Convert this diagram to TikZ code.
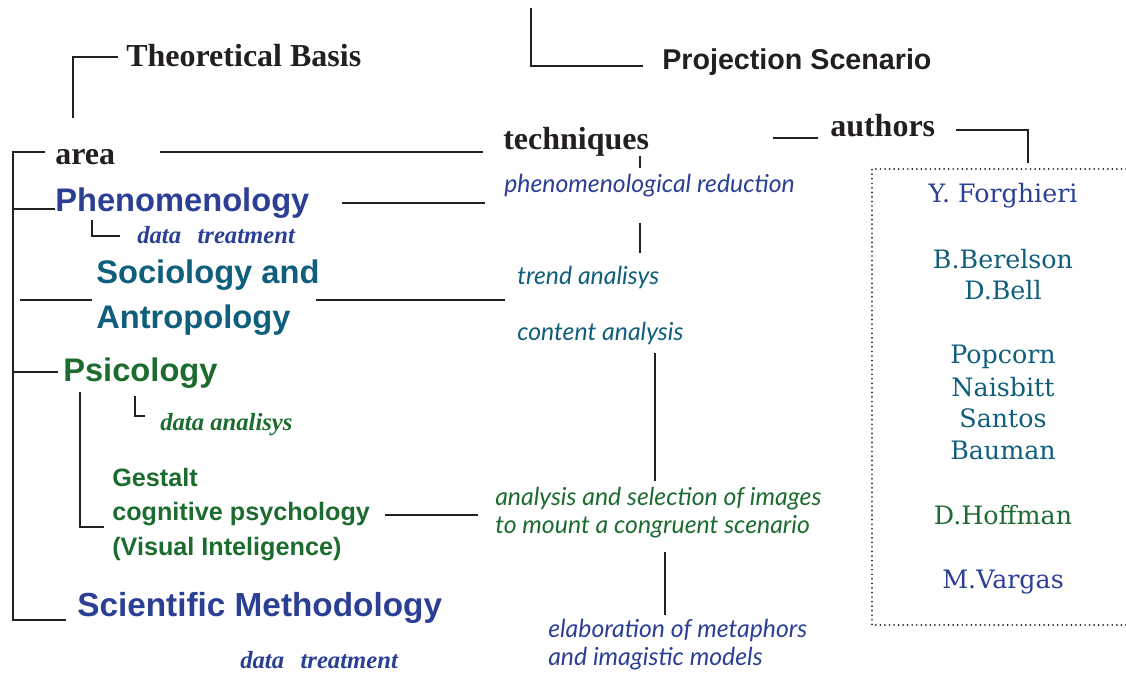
\documentclass[tikz,border=0pt]{standalone}
\usepackage{fontspec}
\newfontfamily\hdfont{Liberation Serif}
\newfontfamily\bgfont{Liberation Sans}
\newfontfamily\tqfont{Lato}
\newfontfamily\aufont{DejaVu Serif}
\definecolor{cblue}{RGB}{43,63,148}
\definecolor{cteal}{RGB}{15,94,124}
\definecolor{cgreen}{RGB}{28,107,47}
\definecolor{lk}{RGB}{35,31,32}
\begin{document}
\begin{tikzpicture}[x=0.75pt,y=-0.75pt,
  ln/.style={line width=2pt, draw=lk},
  dotbox/.style={line width=1.4pt, draw=lk, line cap=round, dash pattern=on 0.01pt off 3.4pt},
  head/.style={inner sep=0pt, anchor=base west, text=lk, font=\hdfont\bfseries\fontsize{24}{28}\selectfont},
  proj/.style={inner sep=0pt, anchor=base west, text=lk, font=\bgfont\bfseries\fontsize{21.5}{26}\selectfont},
  big/.style={inner sep=0pt, anchor=base west, font=\bgfont\bfseries\fontsize{24.5}{29}\selectfont},
  subl/.style={inner sep=0pt, anchor=base west, text=cgreen, font=\bgfont\bfseries\fontsize{18.9}{23}\selectfont},
  dat/.style={inner sep=0pt, anchor=base west, font=\hdfont\bfseries\itshape\fontsize{18.5}{22}\selectfont},
  tq/.style={inner sep=0pt, anchor=base west, font=\tqfont\itshape\fontsize{18.6}{22}\selectfont},
  au/.style={inner sep=0pt, anchor=base, font=\aufont\fontsize{19}{23}\selectfont}
]
\useasboundingbox (0,0) rectangle (1126,673);

% headings
\node[head] (tb) at (126,67) {Theoretical Basis};
\node[proj] (ps) at (662,70) {Projection Scenario};
\node[head] (area) at (55,165) {area};
\node[head] (tech) at (503,150) {techniques};
\node[head] (auth) at (830,137) {authors};

% areas
\node[big,text=cblue] (phen) at (55,212) {Phenomenology};
\node[big,text=cteal] (soc1) at (96,283) {Sociology and};
\node[big,text=cteal] (soc2) at (96,328) {Antropology};
\node[big,text=cgreen] (psi) at (63,381) {Psicology};
\node[big,text=cblue,font=\bgfont\bfseries\fontsize{25}{29}\selectfont] (sci) at (77,616) {Scientific Methodology};
\node[subl] (ges1) at (112,486) {Gestalt};
\node[subl] (ges2) at (112,520) {cognitive psychology};
\node[subl] (ges3) at (112,555) {(Visual Inteligence)};
\node[dat,text=cblue] (dt1) at (137,244) {data\ \ \,treatment};
\node[dat,text=cgreen] (da) at (160,430) {data analisys};
\node[dat,text=cblue] (dt2) at (240,668) {data\ \ \,treatment};

% techniques
\node[tq,text=cblue] (pr) at (504,193) {phenomenological reduction};
\node[tq,text=cteal] (ta) at (517,284) {trend analisys};
\node[tq,text=cteal] (ca) at (517,340) {content analysis};
\node[tq,text=cgreen] (as1) at (495,505) {analysis and selection of images};
\node[tq,text=cgreen] (as2) at (495,533) {to mount a congruent scenario};
\node[tq,text=cblue] (el1) at (548,637) {elaboration of metaphors};
\node[tq,text=cblue] (el2) at (548,665) {and imagistic models};

% authors
\node[au,text=cblue] (a1) at (1003,203) {Y. Forghieri};
\node[au,text=cteal] (a2) at (1003,268) {B.Berelson};
\node[au,text=cteal] (a3) at (1003,300) {D.Bell};
\node[au,text=cteal] (a4) at (1003,363) {Popcorn};
\node[au,text=cteal] (a5) at (1003,396) {Naisbitt};
\node[au,text=cteal] (a6) at (1003,427) {Santos};
\node[au,text=cteal] (a7) at (1003,459) {Bauman};
\node[au,text=cgreen] (a8) at (1003,524) {D.Hoffman};
\node[au,text=cblue] (a9) at (1003,588) {M.Vargas};

% coordinates for connectors
\coordinate (psT) at (531,8);   \coordinate (psC) at (531,66);  \coordinate (psE) at (643,66);
\coordinate (tbB) at (73,118);  \coordinate (tbC) at (73,57);   \coordinate (tbE) at (118,57);
\coordinate (lT) at (13,152);   \coordinate (lTE) at (45,152);
\coordinate (lP) at (13,209);   \coordinate (lPE) at (55,209);
\coordinate (lS) at (20,300);   \coordinate (lSE) at (92,300);
\coordinate (lY) at (13,372);   \coordinate (lYE) at (58,372);
\coordinate (lB) at (13,620);   \coordinate (lBE) at (66,620);
\coordinate (d1T) at (92,220);  \coordinate (d1C) at (92,236); \coordinate (d1E) at (120,236);
\coordinate (gT) at (80,392);   \coordinate (gC) at (80,527);  \coordinate (gE) at (104,527);
\coordinate (daT) at (135,396); \coordinate (daC) at (135,416); \coordinate (daE) at (145,416);
\coordinate (atA) at (160,152); \coordinate (atB) at (483,152);
\coordinate (phA) at (342,203); \coordinate (phB) at (485,203);
\coordinate (soA) at (316,300); \coordinate (soB) at (505,300);
\coordinate (coA) at (385,515); \coordinate (coB) at (478,515);
\coordinate (t1A) at (640,156); \coordinate (t1B) at (640,168);
\coordinate (t2A) at (640,223); \coordinate (t2B) at (640,253);
\coordinate (t3A) at (655,353); \coordinate (t3B) at (655,481);
\coordinate (t4A) at (665,552); \coordinate (t4B) at (665,615);
\coordinate (tuA) at (773,138); \coordinate (tuB) at (818,138);
\coordinate (auA) at (956,130); \coordinate (auC) at (1028,130); \coordinate (auB) at (1028,163);
\coordinate (bxTR) at (1126,169); \coordinate (bxTL) at (872,169);
\coordinate (bxBL) at (872,625); \coordinate (bxBR) at (1126,625);

% connectors
\draw[ln] (psT) -- (psC) -- (psE);
\draw[ln] (tbB) -- (tbC) -- (tbE);
\draw[ln] (lTE) -- (lT) -- (lB) -- (lBE);
\draw[ln] (lP) -- (lPE);
\draw[ln] (lS) -- (lSE);
\draw[ln] (lY) -- (lYE);
\draw[ln] (d1T) -- (d1C) -- (d1E);
\draw[ln] (gT) -- (gC) -- (gE);
\draw[ln] (daT) -- (daC) -- (daE);
\draw[ln] (atA) -- (atB);
\draw[ln] (phA) -- (phB);
\draw[ln] (soA) -- (soB);
\draw[ln] (coA) -- (coB);
\draw[ln] (t1A) -- (t1B);
\draw[ln] (t2A) -- (t2B);
\draw[ln] (t3A) -- (t3B);
\draw[ln] (t4A) -- (t4B);
\draw[ln] (tuA) -- (tuB);
\draw[ln] (auA) -- (auC) -- (auB);
\draw[dotbox] (bxTR) -- (bxTL) -- (bxBL) -- (bxBR);
\end{tikzpicture}
\end{document}
